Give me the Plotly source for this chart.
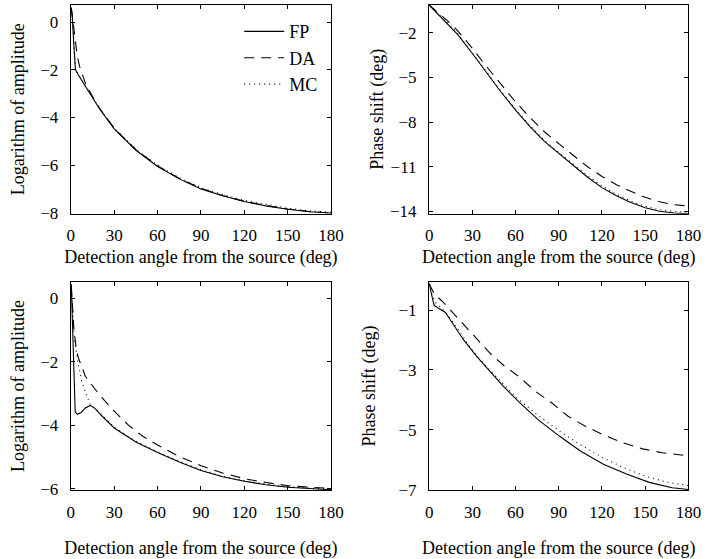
import plotly.graph_objects as go

# ---------------- data ----------------
ang_ticks = [0, 30, 60, 90, 120, 150, 180]

# Panel (a) log amplitude, case 1
a1_fp_x = [0.3, 1, 2, 2.8, 3.2, 5, 10, 15, 20, 30, 45, 60, 75, 90, 105, 120, 135, 150, 165, 180]
a1_fp_y = [0.6, 0.2, -0.9, -1.8, -2.0, -2.2, -2.7, -3.18, -3.65, -4.48, -5.37, -6.05, -6.57, -6.99, -7.28, -7.52, -7.7, -7.84, -7.95, -8.0]
a1_da_x = [0.3, 1.5, 3, 4.5, 6, 8, 10, 15, 20, 30, 45, 60, 75, 90, 105, 120, 135, 150, 165, 180]
a1_da_y = [0.6, 0.0, -0.8, -1.45, -1.85, -2.25, -2.55, -3.12, -3.62, -4.45, -5.35, -6.03, -6.55, -6.97, -7.27, -7.51, -7.69, -7.83, -7.94, -8.0]
a1_mc_x = [0.3, 1, 2, 2.8, 3.2, 5, 10, 15, 20, 30, 45, 60, 75, 90, 105, 120, 135, 150, 165, 180]
a1_mc_y = [0.6, 0.25, -0.7, -1.6, -1.95, -2.18, -2.67, -3.15, -3.62, -4.44, -5.33, -6.0, -6.52, -6.94, -7.23, -7.47, -7.65, -7.8, -7.91, -7.97]

# Panel (b) phase shift, case 1
p1_x = [0, 5, 10, 15, 20, 30, 40, 50, 60, 70, 80, 90, 100, 110, 120, 130, 140, 150, 160, 170, 180]
p1_fp_y = [-0.15, -0.65, -1.1, -1.6, -2.15, -3.4, -4.7, -6.0, -7.2, -8.3, -9.3, -10.1, -10.9, -11.7, -12.4, -12.95, -13.4, -13.75, -13.98, -14.1, -14.15]
p1_da_y = [-0.15, -0.55, -0.95, -1.4, -1.9, -3.05, -4.3, -5.5, -6.65, -7.7, -8.65, -9.45, -10.25, -11.0, -11.65, -12.2, -12.65, -13.05, -13.35, -13.55, -13.63]
p1_mc_y = [-0.15, -0.6, -1.05, -1.55, -2.1, -3.35, -4.65, -5.95, -7.15, -8.25, -9.22, -10.05, -10.83, -11.6, -12.3, -12.85, -13.3, -13.65, -13.88, -14.0, -14.05]

# Panel (c) log amplitude, case 2
a2_fp_x = [0.3, 1, 2, 3, 4.5, 7, 10, 13.5, 17, 21, 30, 45, 60, 75, 90, 105, 120, 135, 150, 165, 180]
a2_fp_y = [0.45, -0.8, -2.5, -3.58, -3.65, -3.6, -3.45, -3.37, -3.48, -3.68, -4.08, -4.52, -4.85, -5.15, -5.42, -5.62, -5.76, -5.87, -5.95, -6.0, -6.03]
a2_da_x = [0.3, 2, 3.5, 5, 8, 10, 15, 20, 30, 40, 50, 60, 75, 90, 105, 120, 135, 150, 165, 180]
a2_da_y = [0.4, -0.9, -1.5, -1.85, -2.2, -2.45, -2.75, -3.05, -3.55, -4.0, -4.35, -4.62, -4.98, -5.27, -5.5, -5.68, -5.8, -5.9, -5.95, -5.98]
a2_mc_x = [0.3, 1, 2.5, 5, 7.5, 10, 13.5, 17, 21, 30, 45, 60, 75, 90, 105, 120, 135, 150, 165, 180]
a2_mc_y = [0.4, -0.3, -1.3, -2.05, -2.6, -2.95, -3.35, -3.47, -3.66, -4.06, -4.5, -4.83, -5.13, -5.4, -5.6, -5.74, -5.85, -5.93, -5.98, -6.01]

# Panel (d) phase shift, case 2
p2_fp_x = [0, 1.5, 3.4, 6.8, 11.3, 14.7, 19.2, 23.8, 32.8, 41.9, 50.9, 62.3, 75.8, 90.6, 105, 121, 137, 152.8, 168.7, 180]
p2_fp_y = [-0.12, -0.45, -0.84, -0.95, -1.08, -1.33, -1.66, -1.99, -2.54, -3.03, -3.52, -4.07, -4.67, -5.22, -5.71, -6.15, -6.48, -6.76, -6.94, -7.0]
p2_da_x = [0, 3.4, 10.2, 21.5, 31.7, 42.6, 52, 63, 73.6, 85, 96.2, 108.7, 121, 134.7, 148.3, 161.9, 177.7, 180]
p2_da_y = [-0.12, -0.45, -0.76, -1.35, -1.88, -2.46, -2.86, -3.25, -3.71, -4.1, -4.54, -4.89, -5.17, -5.44, -5.64, -5.77, -5.86, -5.86]
p2_mc_x = [0, 2, 5, 10, 15, 20, 30, 40, 50, 60, 75, 90, 105, 120, 135, 150, 165, 180]
p2_mc_y = [-0.12, -0.5, -0.8, -1.0, -1.3, -1.65, -2.35, -2.9, -3.4, -3.9, -4.5, -5.03, -5.5, -5.92, -6.27, -6.55, -6.75, -6.87]

# ---------------- figure ----------------
FONT = "Liberation Serif"
TFONT = dict(family=FONT, size=18, color="black")
SOLID = dict(color="black", width=1.1, dash="solid")
DASH = dict(color="black", width=1.1, dash="10px,7px")
DOT = dict(color="black", width=1.1, dash="1px,4px")

fig = go.Figure()

panels = [
    ("x", "y", a1_fp_x, a1_fp_y, a1_da_x, a1_da_y, a1_mc_x, a1_mc_y, True),
    ("x2", "y2", p1_x, p1_fp_y, p1_x, p1_da_y, p1_x, p1_mc_y, False),
    ("x3", "y3", a2_fp_x, a2_fp_y, a2_da_x, a2_da_y, a2_mc_x, a2_mc_y, False),
    ("x4", "y4", p2_fp_x, p2_fp_y, p2_da_x, p2_da_y, p2_mc_x, p2_mc_y, False),
]
for xa, ya, fx, fy, dx, dy, mx, my, leg in panels:
    fig.add_trace(go.Scatter(x=fx, y=fy, mode="lines", line=SOLID, name="FP",
                             showlegend=leg, xaxis=xa, yaxis=ya))
    fig.add_trace(go.Scatter(x=dx, y=dy, mode="lines", line=DASH, name="DA",
                             showlegend=leg, xaxis=xa, yaxis=ya))
    fig.add_trace(go.Scatter(x=mx, y=my, mode="lines", line=DOT, name="MC",
                             showlegend=leg, xaxis=xa, yaxis=ya))

common_axis = dict(
    showline=True, linecolor="black", linewidth=1.4, mirror="ticks",
    ticks="inside", ticklen=4, tickwidth=1, tickcolor="black",
    showgrid=False, zeroline=False,
    tickfont=dict(family=FONT, size=17, color="black"),
)
xaxis_common = dict(common_axis, ticklabelstandoff=6)
yaxis_common = dict(common_axis, ticklabelstandoff=8)

xt = "Detection angle from the source (deg)"
fig.update_layout(
    width=717, height=559,
    margin=dict(l=0, r=0, t=0, b=0),
    paper_bgcolor="white", plot_bgcolor="white",
    font=dict(family=FONT, size=18, color="black"),
    showlegend=True,
    legend=dict(x=0.336, y=0.976, xanchor="left", yanchor="top",
                bgcolor="rgba(0,0,0,0)", font=dict(family=FONT, size=18),
                itemwidth=40, tracegroupgap=0),
    xaxis=dict(domain=[0.0955, 0.4672], anchor="y", range=[0, 180], tickvals=ang_ticks,
               title=dict(text=xt, standoff=6, font=TFONT), **xaxis_common),
    yaxis=dict(domain=[0.610, 0.9911], anchor="x", range=[-8.03, 0.72], tickvals=[0, -2, -4, -6, -8],
               title=dict(text="Logarithm of amplitude", standoff=10, font=TFONT), **yaxis_common),
    xaxis2=dict(domain=[0.6074, 0.9777], anchor="y2", range=[0, 180], tickvals=ang_ticks,
                title=dict(text=xt, standoff=6, font=TFONT), **xaxis_common),
    yaxis2=dict(domain=[0.610, 0.9911], anchor="x2", range=[-14.15, -0.14], tickvals=[-2, -5, -8, -11, -14],
                title=dict(text="Phase shift (deg)", standoff=1, font=TFONT), **yaxis_common),
    xaxis3=dict(domain=[0.0955, 0.4672], anchor="y3", range=[0, 180], tickvals=ang_ticks,
                title=dict(text=xt, standoff=24, font=TFONT), **xaxis_common),
    yaxis3=dict(domain=[0.105, 0.486], anchor="x3", range=[-6.05, 0.53], tickvals=[0, -2, -4, -6],
                title=dict(text="Logarithm of amplitude", standoff=10, font=TFONT), **yaxis_common),
    xaxis4=dict(domain=[0.6074, 0.9777], anchor="y4", range=[0, 180], tickvals=ang_ticks,
                title=dict(text=xt, standoff=24, font=TFONT), **xaxis_common),
    yaxis4=dict(domain=[0.105, 0.486], anchor="x4", range=[-7.03, -0.05], tickvals=[-1, -3, -5, -7],
                title=dict(text="Phase shift (deg)", standoff=18, font=TFONT), **yaxis_common),
)

fig.write_html("out.html")
